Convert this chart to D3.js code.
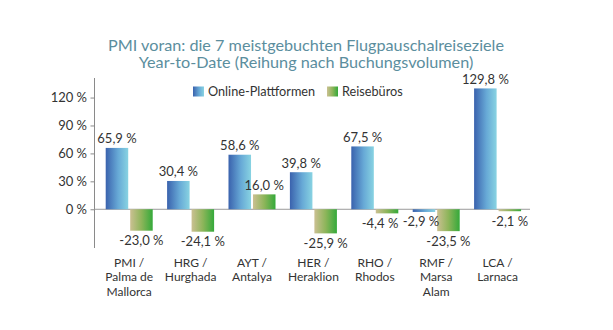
<!DOCTYPE html>
<html><head><meta charset="utf-8">
<script src="https://cdn.jsdelivr.net/npm/d3@7"></script>
<style>body{margin:0;background:#fff}svg{display:block}text{font-family:Lato,"Open Sans",sans-serif}</style>
</head><body><svg id="c" width="613" height="330"></svg>
<script>
const categories = [["PMI /","Palma de","Mallorca"],["HRG /","Hurghada"],["AYT /","Antalya"],["HER /","Heraklion"],["RHO /","Rhodos"],["RMF /","Marsa","Alam"],["LCA /","Larnaca"]];
const seriesNames = ["Online-Plattformen","Reisebüros"];
const online = [65.9,30.4,58.6,39.8,67.5,-2.9,129.8];
const reise = [-23.0,-24.1,16.0,-25.9,-4.4,-23.5,-2.1];
const yTicks = [0,30,60,90,120];
const titleLines = ["PMI voran: die 7 meistgebuchten Flugpauschalreiseziele","Year-to-Date (Reihung nach Buchungsvolumen)"];

const svg = d3.select("#c");
const defs = svg.append("defs");
const g1 = defs.append("linearGradient").attr("id","gb").attr("x1","0").attr("x2","1").attr("y1","0").attr("y2","0");
g1.append("stop").attr("offset","0").attr("stop-color","#3a62ad");
g1.append("stop").attr("offset","0.55").attr("stop-color","#67a9d6");
g1.append("stop").attr("offset","1").attr("stop-color","#88d3e2");
const g2 = defs.append("linearGradient").attr("id","gg").attr("x1","0").attr("x2","1").attr("y1","0").attr("y2","0");
g2.append("stop").attr("offset","0").attr("stop-color","#cbc092");
g2.append("stop").attr("offset","0.5").attr("stop-color","#8db55a");
g2.append("stop").attr("offset","1").attr("stop-color","#34a93a");
const fills = ["url(#gb)","url(#gg)"];

const y = d3.scaleLinear().domain([-41.6,141]).range([248,78]);
const x0 = d3.scaleBand().domain(d3.range(categories.length)).range([98.5,528.3]).paddingInner(0.2345).paddingOuter(0.1173);
const x1 = d3.scaleBand().domain([0,1]).range([0,x0.bandwidth()]).paddingInner(0.08);

// title
svg.append("g").selectAll("text").data(titleLines).join("text")
  .attr("x",306).attr("y",(d,i)=>50.5+i*17.5).attr("text-anchor","middle")
  .attr("font-size",16.2).attr("fill","#5b8e9e").text(d=>d);

// axis
const axis = svg.append("g").attr("transform","translate(94.5,0)")
  .call(d3.axisLeft(y).tickValues(yTicks).tickSize(4).tickFormat(d=>d+" %"));
axis.select(".domain").attr("stroke","#8a8a8a").attr("d",`M0,${y.range()[1]}V${y.range()[0]}`);
axis.selectAll(".tick line").attr("stroke","#8a8a8a");
axis.selectAll(".tick text").attr("font-size",13).attr("fill","#333").attr("font-family","Lato,sans-serif").attr("dx",-0.5);

// baseline
svg.append("line").attr("x1",94.5).attr("x2",530).attr("y1",y(0)).attr("y2",y(0)).attr("stroke","#9a9a9a").attr("stroke-width",1);

// small label nudges where the reference shifts labels apart
const nudge = {"4-1":-7, "5-0":-3};

const data = categories.map((c,i)=>({i, vals:[online[i],reise[i]]}));
const groups = svg.append("g").selectAll("g").data(data).join("g").attr("transform",d=>`translate(${x0(d.i)},0)`);
groups.selectAll("rect").data(d=>d.vals.map((v,k)=>({v,k}))).join("rect")
  .attr("x",d=>x1(d.k)).attr("width",x1.bandwidth())
  .attr("y",d=>Math.min(y(d.v),y(0))).attr("height",d=>Math.abs(y(d.v)-y(0)))
  .attr("fill",d=>fills[d.k]);
groups.selectAll("text.v").data(d=>d.vals.map((v,k)=>({v,k,i:d.i}))).join("text").attr("class","v")
  .attr("x",d=>x1(d.k)+x1.bandwidth()/2+(nudge[d.i+"-"+d.k]||0))
  .attr("y",d=>d.v>=0 ? y(d.v)-4.5 : y(d.v)+14.5)
  .attr("text-anchor","middle").attr("font-size",13).attr("fill","#333")
  .text(d=>d3.format(".1f")(d.v).replace(".",",").replace("−","-")+" %");

// category labels (one text element per line)
groups.selectAll("text.c").data(d=>categories[d.i].map((l,j)=>({l,j}))).join("text").attr("class","c")
  .attr("x",x0.bandwidth()/2).attr("y",d=>266.5+d.j*14.5)
  .attr("text-anchor","middle").attr("font-size",12).attr("fill","#333").text(d=>d.l);

// legend
const leg = svg.append("g");
const lx = [193,327];
seriesNames.forEach((n,k)=>{
  leg.append("rect").attr("x",lx[k]).attr("y",86.5).attr("width",11).attr("height",10).attr("fill",fills[k]);
  leg.append("text").attr("x",lx[k]+15).attr("y",96).attr("font-size",12.7).attr("fill","#333").text(n);
});
</script></body></html>
